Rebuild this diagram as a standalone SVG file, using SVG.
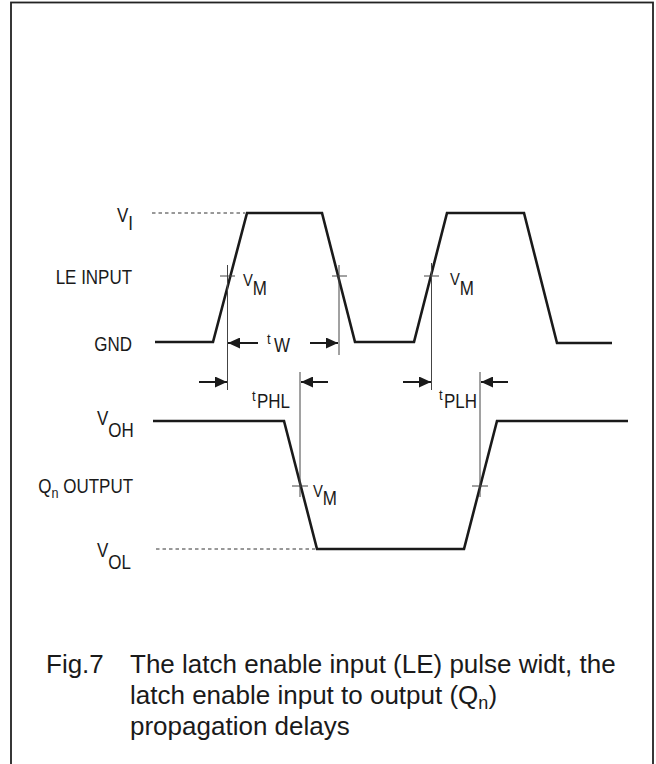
<svg xmlns="http://www.w3.org/2000/svg" width="656" height="764" viewBox="0 0 656 764">
<style>
  text { font-family: "Liberation Sans", Arial, Helvetica, sans-serif; fill: #1a1a1a; }
  .lbl { font-size: 19.5px; }
  .cap { font-size: 26px; }
  .wave { fill: none; stroke: #1a1a1a; stroke-width: 2.6; stroke-linejoin: miter; }
  .thin { fill: none; stroke: #444; stroke-width: 1; }
  .dash { fill: none; stroke: #333; stroke-width: 1; stroke-dasharray: 3.5 3; }
  .arr { fill: none; stroke: #1a1a1a; stroke-width: 2; marker-end: url(#ah); }
</style>
<defs>
  <marker id="ah" markerWidth="12" markerHeight="11" refX="12" refY="5.5" orient="auto" markerUnits="userSpaceOnUse">
    <path d="M0,0 L12,5.5 L0,11 z" fill="#1a1a1a"/>
  </marker>
</defs>
<rect x="11" y="2.5" width="642" height="800" fill="none" stroke="#222" stroke-width="1.8"/>

<g id="labels">
  <text class="lbl" transform="translate(117,222) scale(0.87,1)" font-size="18">V<tspan dy="8" font-size="19.5">I</tspan></text>
  <text class="lbl" transform="translate(132,284) scale(0.87,1)" text-anchor="end">LE INPUT</text>
  <text class="lbl" transform="translate(132,351) scale(0.87,1)" text-anchor="end">GND</text>
  <text class="lbl" transform="translate(97,425) scale(0.87,1)" font-size="16.5">V<tspan dy="12" font-size="19.5">OH</tspan></text>
  <text class="lbl" transform="translate(133,493) scale(0.87,1)" text-anchor="end">Q<tspan dy="5" font-size="14.5">n</tspan><tspan dy="-5"> OUTPUT</tspan></text>
  <text class="lbl" transform="translate(97,557) scale(0.87,1)" font-size="16.5">V<tspan dy="12" font-size="19.5">OL</tspan></text>
</g>

<g id="le-input">
  <path class="wave" d="M155,342 L213,342 L247,213 L322,213 L355,342 L414,342 L447,213 L524,213 L557,343 L612,343"/>
</g>

<g id="q-output">
  <path class="wave" d="M153,421 L284,421 L317,549 L464,549 L497,421 L628,421"/>
</g>

<g id="connectors">
  <line class="dash" x1="152" y1="213" x2="245" y2="213"/>
  <line class="dash" x1="156" y1="549" x2="315" y2="549"/>
  <line class="thin" x1="227.5" y1="265" x2="227.5" y2="390"/>
  <line class="thin" x1="339" y1="265" x2="339" y2="355"/>
  <line class="thin" x1="431.5" y1="263" x2="431.5" y2="390"/>
  <line class="thin" x1="300" y1="372" x2="300" y2="497"/>
  <line class="thin" x1="480" y1="372" x2="480" y2="497"/>
  <line class="thin" x1="220" y1="276" x2="235" y2="276"/>
  <line class="thin" x1="332" y1="276" x2="347" y2="276"/>
  <line class="thin" x1="424" y1="276" x2="439" y2="276"/>
  <line class="thin" x1="292" y1="486" x2="308" y2="486"/>
  <line class="thin" x1="472" y1="486" x2="488" y2="486"/>
  <line class="arr" x1="258" y1="343" x2="228" y2="343"/>
  <line class="arr" x1="310" y1="343" x2="338" y2="343"/>
  <line class="arr" x1="199" y1="382" x2="227" y2="382"/>
  <line class="arr" x1="328" y1="382" x2="301" y2="382"/>
  <line class="arr" x1="403" y1="382" x2="431" y2="382"/>
  <line class="arr" x1="508" y1="382" x2="481" y2="382"/>
</g>

<g id="timing-labels">
  <text transform="translate(243,286) scale(0.87,1)" font-size="17">V<tspan dy="9" font-size="19.5">M</tspan></text>
  <text transform="translate(450,285) scale(0.87,1)" font-size="17">V<tspan dy="10" font-size="19.5">M</tspan></text>
  <text transform="translate(313,497) scale(0.87,1)" font-size="17">V<tspan dy="8" font-size="19.5">M</tspan></text>
  <text transform="translate(267,344) scale(0.87,1)" font-size="15">t<tspan dx="4" dy="8" font-size="19.5">W</tspan></text>
  <text transform="translate(252,401) scale(0.87,1)" font-size="15">t<tspan dx="1.5" dy="7" font-size="19.5">PHL</tspan></text>
  <text transform="translate(439,400) scale(0.87,1)" font-size="15">t<tspan dx="1.5" dy="8" font-size="19.5">PLH</tspan></text>
</g>

<g id="caption">
  <text class="cap" x="46" y="673">Fig.7</text>
  <text class="cap" x="130" y="673">The latch enable input (LE) pulse widt, the</text>
  <text class="cap" x="130" y="704">latch enable input to output (Q<tspan dy="5" font-size="18">n</tspan><tspan dy="-5">)</tspan></text>
  <text class="cap" x="130" y="735">propagation delays</text>
</g>
</svg>
